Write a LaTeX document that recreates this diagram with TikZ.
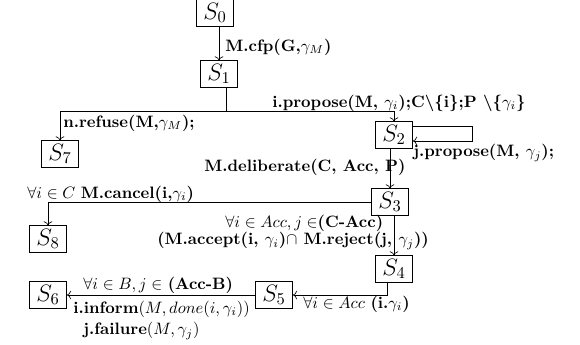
\documentclass[tikz,border=0pt]{standalone}
\usepackage{amsmath, amssymb}
\usetikzlibrary{arrows.meta, positioning, calc}

\begin{document}
\begin{tikzpicture}[x=0.606pt, y=-0.606pt, >={To},
    state/.style={draw, semithick, minimum width=22.4pt, minimum height=15.8pt, inner sep=1pt, font=\Large},
    lab/.style={inner sep=0pt, anchor=west}]
    \useasboundingbox (0,0) rectangle (580,345);

    % States
    \node[state] (S0) at (215,13) {$S_0$};
    \node[state] (S1) at (219,74) {$S_1$};
    \node[state] (S2) at (394,135) {$S_2$};
    \node[state] (S3) at (390,202) {$S_3$};
    \node[state] (S4) at (394,269) {$S_4$};
    \node[state] (S5) at (274,295) {$S_5$};
    \node[state] (S6) at (48,295) {$S_6$};
    \node[state] (S7) at (60,154) {$S_7$};
    \node[state] (S8) at (48,239) {$S_8$};
    \coordinate (fork) at (226,111);

    % Transitions
    \draw[->] (S1.north |- S0.south) -- (S1.north);
    \draw (S1.south -| fork) -- (fork);
    \draw[->] (fork) -| (S7.north);
    \draw[->] (fork) -| (S2.north);
    \draw[->] ($(S2.east)+(0,-9)$) -- ++(59,0) |- ($(S2.east)+(0,6)$);
    \draw[->] (S3.north |- S2.south) -- (S3.north);
    \draw[->] (S3.west) -| (S8.north);
    \draw[->] (S4.north |- S3.south) -- (S4.north);
    \draw[->] ($(S4.south)+(-7,0)$) |- (S5.east);
    \draw[->] (S5.west) -- (S6.east);

    % Labels
    \node[lab] (cfp) at (225,47) {\textbf{M.cfp(G,$\gamma_M$)}};
    \node[lab] (prop) at (272,103) {\textbf{i.propose(M, $\gamma_i$);C{\boldmath$\setminus\{$}i{\boldmath$\}$};P {\boldmath$\setminus\{$}$\gamma_i${\boldmath$\}$}}};
    \node[lab] (refuse) at (63,123) {\textbf{n.refuse(M,$\gamma_M$);}};
    \node[lab] (jprop) at (413,153) {\textbf{j.propose(M, $\gamma_j$);}};
    \node[lab] (delib) at (204,167) {\textbf{M.deliberate(C, Acc, P)}};
    \node[lab] (cancel) at (27,194) {$\forall i\in C$ \textbf{M.cancel(i,$\gamma_i$)}};
    \node[lab] (acc1) at (225,223) {$\forall i\in Acc, j\in$\textbf{(C-Acc)}};
    \node[lab] (acc2) at (157,241) {\textbf{(M.accept(i, $\gamma_i$)$\cap$ M.reject(j, $\gamma_j$))}};
    \node[lab] (allacc) at (303,304) {$\forall i\in Acc$ \textbf{(i.$\gamma_i$)}};
    \node[lab] (inf1) at (83,285) {$\forall i\in B, j\in$ \textbf{(Acc-B)}};
    \node[lab] (inf2) at (73,309) {\textbf{i.inform}$(M, done(i,\gamma_i))$};
    \node[lab] (inf3) at (83,331) {\textbf{j.failure}$(M,\gamma_j)$};
\end{tikzpicture}
\end{document}
